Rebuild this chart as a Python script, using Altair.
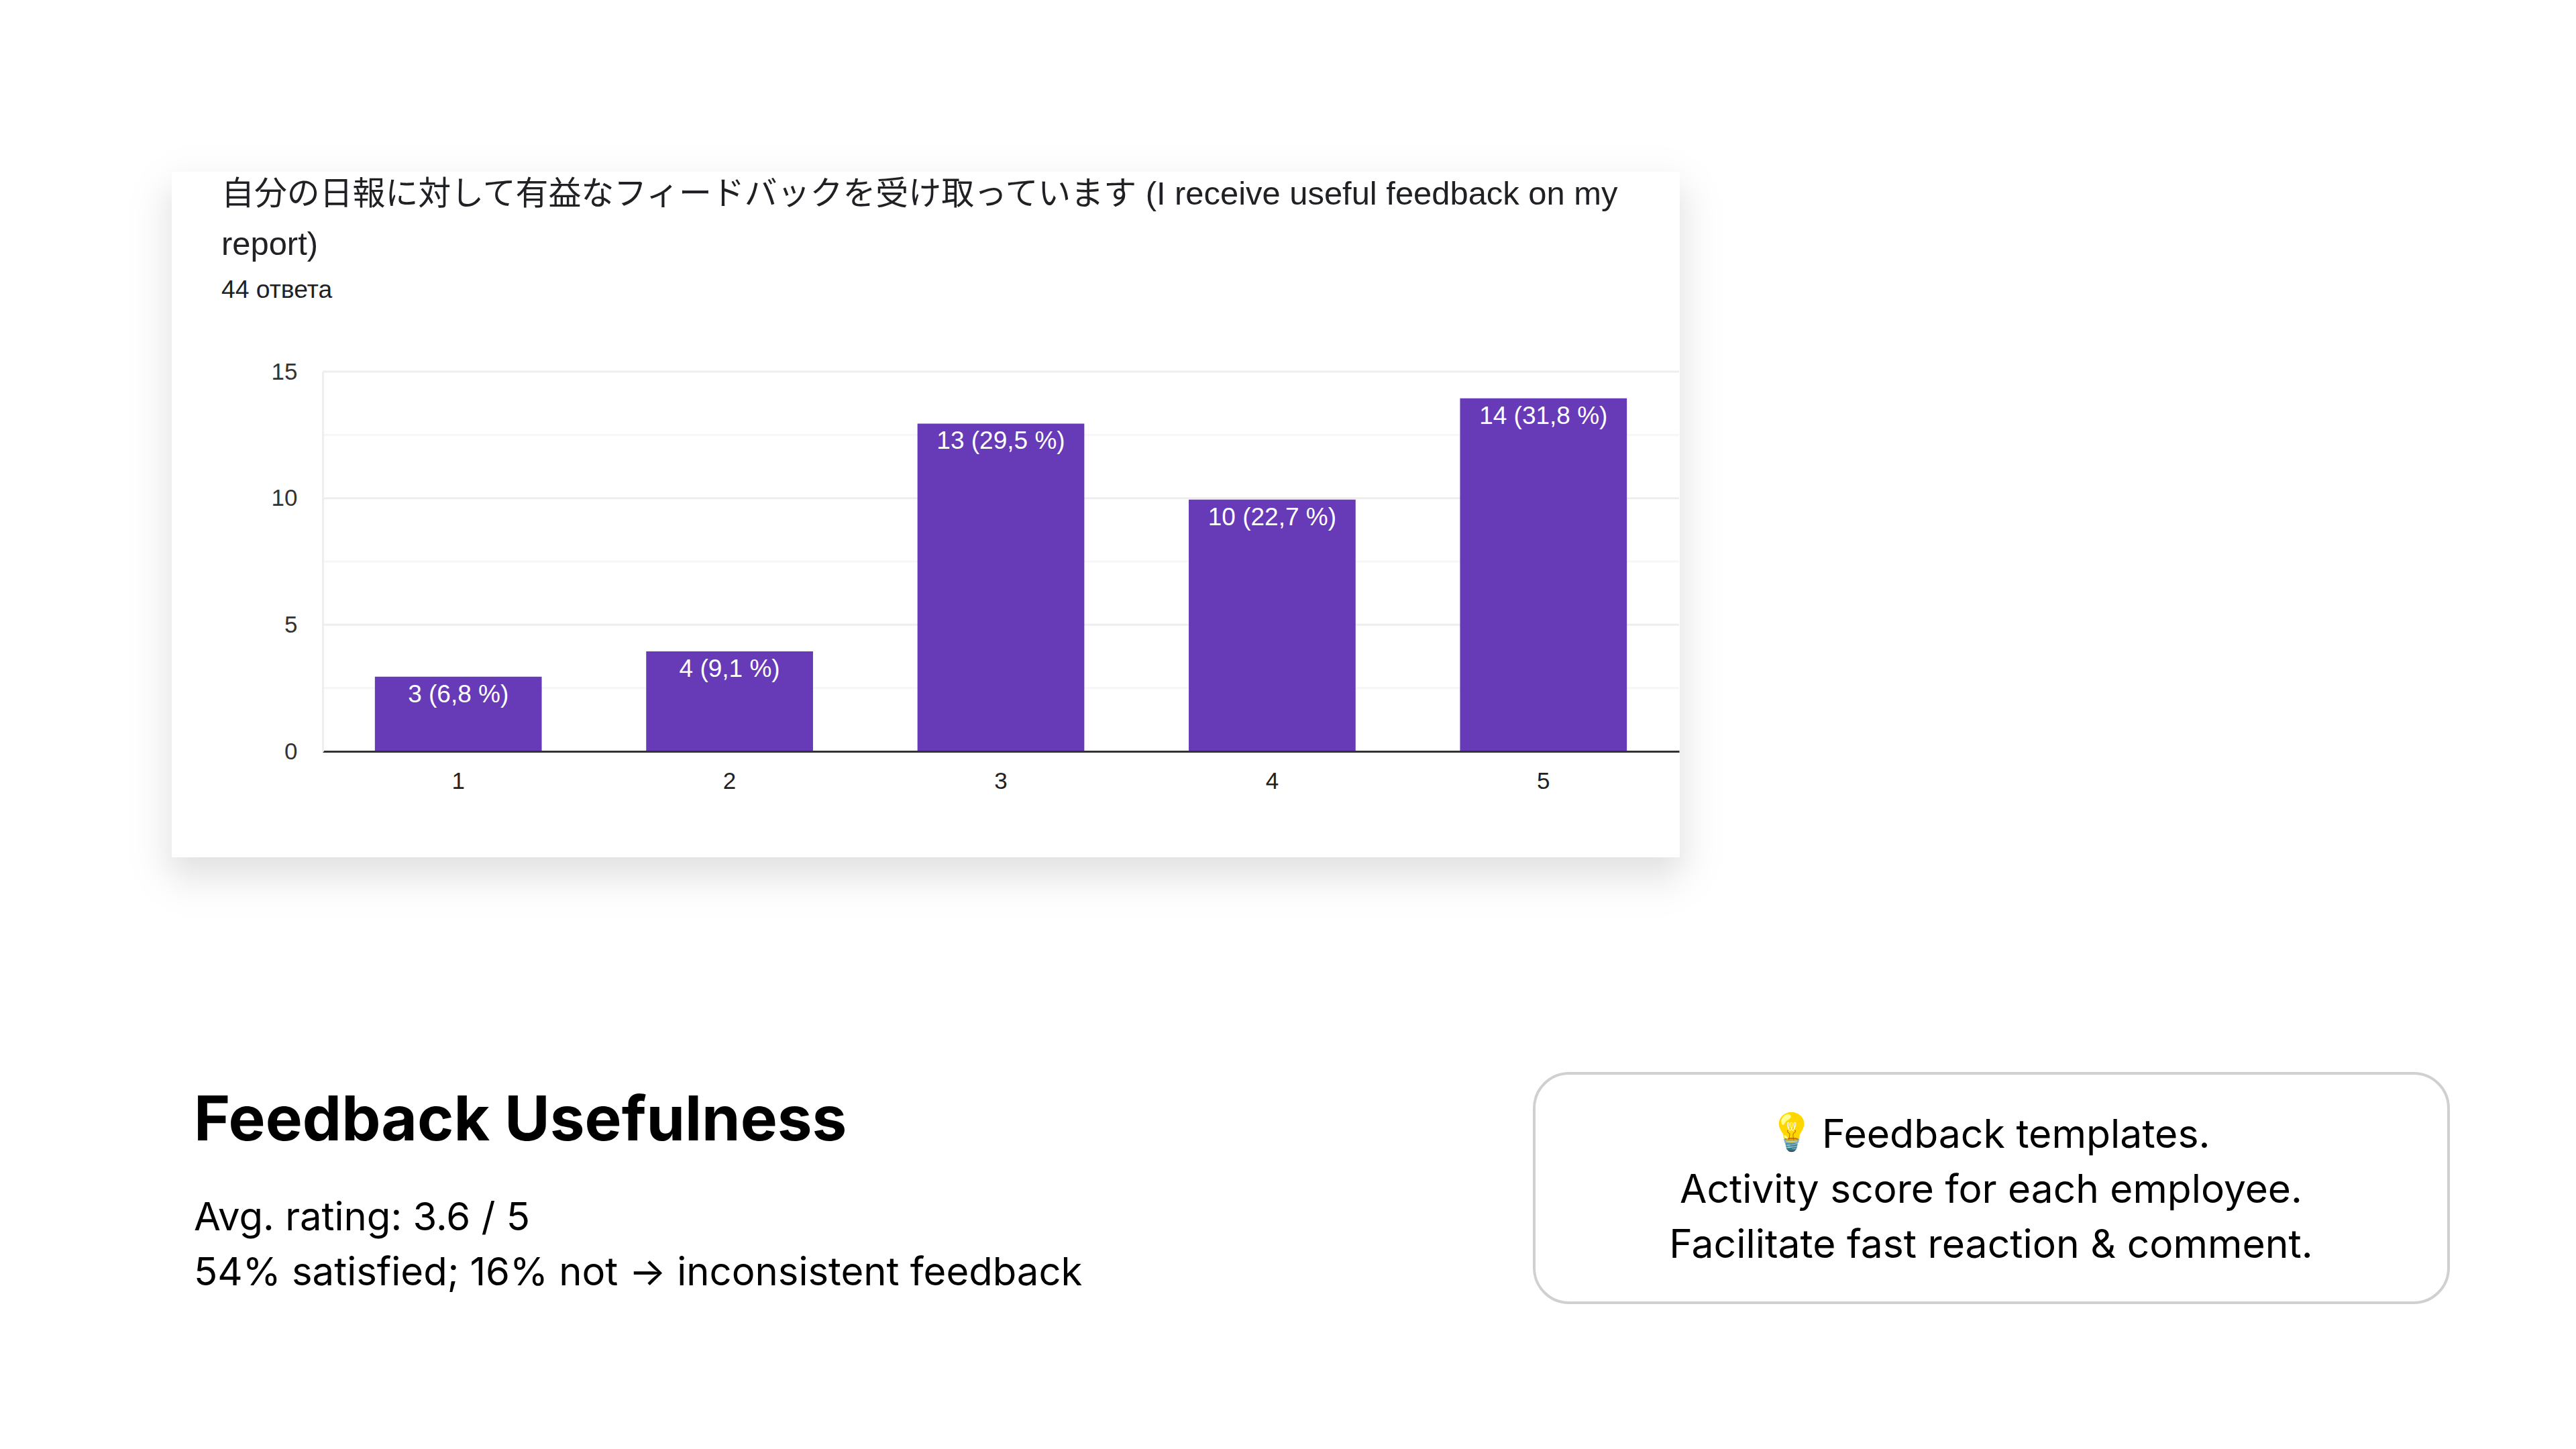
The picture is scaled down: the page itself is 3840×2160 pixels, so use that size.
from statistics import NormalDist

import altair as alt
import pandas as pd

categories = ["1", "2", "3", "4", "5"]
counts = [3, 4, 13, 10, 14]
bar_labels = ["3 (6,8 %)", "4 (9,1 %)", "13 (29,5 %)", "10 (22,7 %)", "14 (31,8 %)"]
major_ticks = [0, 5, 10, 15]
minor_ticks = [2.5, 7.5, 12.5]

PL, PT = 481, 554
W, H = 2022, 566
SANS = "Liberation Sans, Noto Sans CJK JP"
INTER = "Inter"

def text(s, x, y, size, font=INTER, weight="normal", align="left", color="#000000", **kw):
    return alt.Chart(pd.DataFrame({"t": [s]})).mark_text(
        font=font, fontSize=size, fontWeight=weight, align=align,
        baseline="alphabetic", color=color, **kw
    ).encode(x=alt.value(x - PL), y=alt.value(y - PT), text="t:N")

def box(x0, y0, x1, y1, **kw):
    return alt.Chart(pd.DataFrame({"a": [0]})).mark_rect(**kw).encode(
        x=alt.value(x0 - PL), x2=alt.value(x1 - PL),
        y=alt.value(y0 - PT), y2=alt.value(y1 - PT))

CARD = (256, 256, 2504, 1278)
layers = []
LEVELS = 34
for k in range(LEVELS, 0, -1):
    e = round(NormalDist(0, 30).inv_cdf((k - 0.5) / LEVELS))
    layers.append(box(CARD[0] - e, CARD[1] - e + 25, CARD[2] + e, CARD[3] + e + 25,
                      color="#000000", opacity=0.0042, cornerRadius=max(e + 40, 0)))
layers.append(box(*CARD, color="#ffffff"))

df = pd.DataFrame({"cat": categories, "n": counts, "label": bar_labels})
yscale = alt.Scale(domain=[0, 15], nice=False, zero=True)
xscale = alt.Scale(domain=categories, paddingInner=0.385, paddingOuter=0.1925)

minor = alt.Chart(pd.DataFrame({"v": minor_ticks})).mark_rule(color="#f6f6f6", strokeWidth=3).encode(
    y=alt.Y("v:Q", scale=yscale), x=alt.value(0), x2=alt.value(W))
major = alt.Chart(pd.DataFrame({"v": major_ticks[1:]})).mark_rule(color="#eeeeee", strokeWidth=3).encode(
    y=alt.Y("v:Q", scale=yscale), x=alt.value(0), x2=alt.value(W))

bars = alt.Chart(df).mark_bar(color="#673ab7", yOffset=2, y2Offset=0).encode(
    x=alt.X("cat:N", scale=xscale, sort=categories, title=None,
            axis=alt.Axis(labelAngle=0, ticks=False, labelFont=SANS, labelFontSize=35,
                          labelColor="#222222", domainColor="#333333", domainWidth=3,
                          labelPadding=44, labelBaseline="middle", zindex=1, grid=False)),
    y=alt.Y("n:Q", scale=yscale, title=None,
            axis=alt.Axis(values=major_ticks, ticks=False, labelFont=SANS, labelFontSize=35,
                          labelColor="#333333", domainColor="#eeeeee", domainWidth=3,
                          labelPadding=38, zindex=1, grid=False)),
)
bar_text = alt.Chart(df).mark_text(font=SANS, fontSize=37, color="#ffffff", baseline="middle", dy=29).encode(
    x=alt.X("cat:N", scale=xscale, sort=categories), y=alt.Y("n:Q", scale=yscale), text="label:N")

layers += [minor, major, bars, bar_text]
layers += [
    text("自分の日報に対して有益なフィードバックを受け取っています (I receive useful feedback on my", 330, 305, 48.9, font=SANS, color="#202124"),
    text("report)", 330, 380, 48.9, font=SANS, color="#202124"),
    text("44 ответа", 330, 444, 37.3, font=SANS, color="#202124"),
    text("Feedback Usefulness", 289, 1700, 92.5, weight="bold"),
    text("Avg. rating: 3.6 / 5", 289, 1834, 58),
    text("54% satisfied; 16% not → inconsistent feedback", 289, 1916, 58),
    box(2287, 1600, 3650, 1942, fill="#ffffff", stroke="#d0d0d0", strokeWidth=4, cornerRadius=52),
    text("💡", 2670, 1706, 54, align="center"),
    text("Feedback templates.", 2716, 1711, 58.9),
    text("Activity score for each employee.", 2968, 1793, 58.6, align="center"),
    text("Facilitate fast reaction & comment.", 2968, 1875, 58.8, align="center"),
]

chart = alt.layer(*layers).resolve_scale(y="shared", x="shared").properties(
    width=W, height=H,
    padding={"left": PL - 8, "top": PT - 8, "right": 3824 - (PL - 8) - W, "bottom": 2144 - (PT - 8) - H},
    autosize=alt.AutoSizeParams(type="none"),
    background="#ffffff",
).configure_view(stroke=None)

chart.save("out.html", embed_options={"renderer": "svg", "actions": False})
